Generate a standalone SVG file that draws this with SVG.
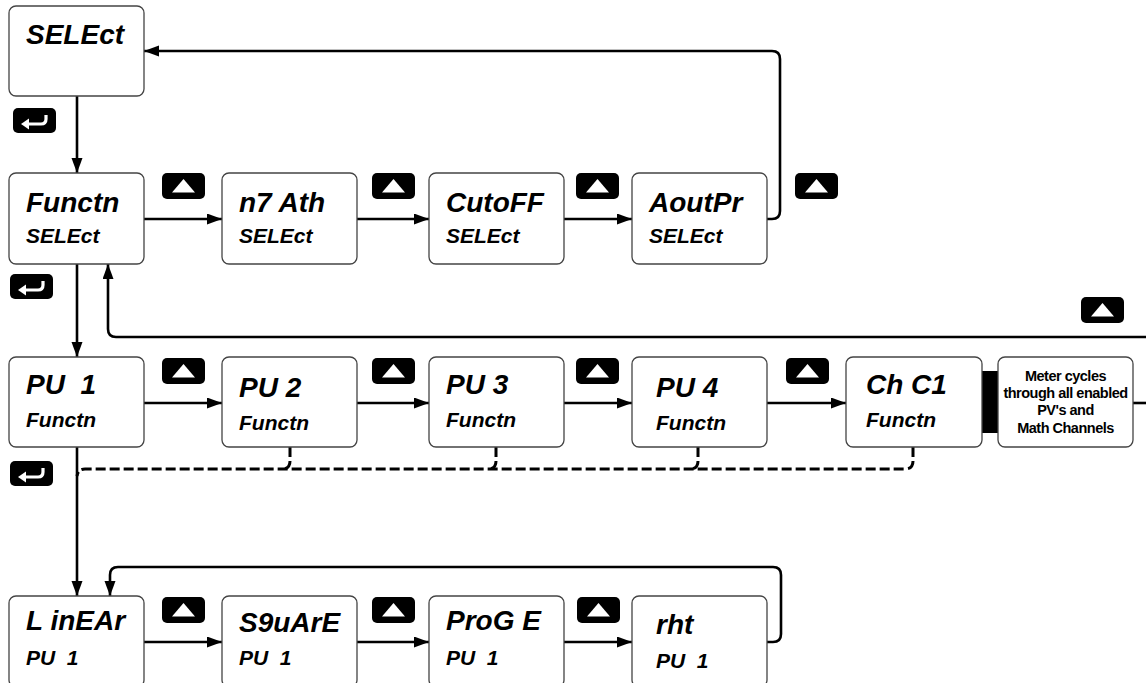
<svg xmlns="http://www.w3.org/2000/svg" xmlns:xlink="http://www.w3.org/1999/xlink" width="1146" height="683" viewBox="0 0 1146 683">
<style>
.box{fill:#fff;stroke:#444;stroke-width:1.3}
.t1{font-family:"Liberation Sans",Arial,sans-serif;font-weight:bold;font-style:italic;font-size:28px;fill:#000;white-space:pre}
.t2{font-family:"Liberation Sans",Arial,sans-serif;font-weight:bold;font-style:italic;font-size:21px;fill:#000;white-space:pre}
.note{font-family:"Liberation Sans",Arial,sans-serif;font-weight:bold;font-size:14.5px;fill:#000;text-anchor:middle;letter-spacing:-0.5px}
.ln{fill:none;stroke:#000;stroke-width:2.6}
.arr{marker-end:url(#ah)}
.dash{fill:none;stroke:#000;stroke-width:3;stroke-dasharray:10 4}
</style>
<defs>
<marker id="ah" markerUnits="userSpaceOnUse" markerWidth="16" markerHeight="12" refX="15" refY="5.5" orient="auto">
<path d="M0,0 L15,5.5 L0,11 Z" fill="#000"/>
</marker>
<symbol id="up" viewBox="0 0 43 26" width="43" height="26">
<rect x="0" y="0" width="43" height="26" rx="5" fill="#000"/>
<path d="M21.5,6 L33,19.5 L10,19.5 Z" fill="#fff"/>
</symbol>
<symbol id="enter" viewBox="0 0 43 25" width="43" height="25">
<rect x="0" y="0" width="43" height="25" rx="5" fill="#000"/>
<path d="M14,16 H28 Q33,16 33,11 V7" fill="none" stroke="#fff" stroke-width="3.2"/>
<path d="M8,16 L16,10.5 L16,21.5 Z" fill="#fff"/>
</symbol>
</defs>

<g id="connectors">
<path class="ln arr" d="M77,96 V173"/>
<path class="ln arr" d="M144,219 H222"/>
<path class="ln arr" d="M357,219 H429"/>
<path class="ln arr" d="M564,219 H632"/>
<path class="ln arr" d="M767,219 H772 Q780,219 780,211 V59 Q780,51 772,51 H144"/>
<path class="ln arr" d="M77,264 V357"/>
<path class="ln arr" d="M1146,337 H116 Q108,337 108,329 V264"/>
<path class="ln arr" d="M144,403 H222"/>
<path class="ln arr" d="M357,403 H429"/>
<path class="ln arr" d="M564,403 H632"/>
<path class="ln arr" d="M767,403 H846"/>
<path class="ln" d="M1133,403 H1146"/>
<rect x="982" y="371" width="16" height="62" fill="#000"/>
<path class="dash" d="M913,447 V461 Q913,469 905,469 H85 Q78,469 77,476"/>
<path class="dash" d="M290,447 V461 Q290,469 282,469"/>
<path class="dash" d="M496,447 V461 Q496,469 488,469"/>
<path class="dash" d="M698,447 V461 Q698,469 690,469"/>
<path class="ln arr" d="M77,447 V596"/>
<path class="ln arr" d="M767,642 H773 Q781,642 781,634 V575 Q781,567 773,567 H118 Q110,567 110,575 V596"/>
<path class="ln arr" d="M144,642 H222"/>
<path class="ln arr" d="M357,642 H429"/>
<path class="ln arr" d="M564,642 H632"/>
</g>

<g id="keys">
<use xlink:href="#enter" x="13" y="108"/>
<use xlink:href="#enter" x="10" y="274"/>
<use xlink:href="#enter" x="10" y="461"/>
<use xlink:href="#up" x="162" y="173"/>
<use xlink:href="#up" x="372" y="173"/>
<use xlink:href="#up" x="576" y="173"/>
<use xlink:href="#up" x="795" y="173"/>
<use xlink:href="#up" x="1081" y="297"/>
<use xlink:href="#up" x="162" y="358"/>
<use xlink:href="#up" x="372" y="358"/>
<use xlink:href="#up" x="576" y="358"/>
<use xlink:href="#up" x="786" y="358"/>
<use xlink:href="#up" x="162" y="597"/>
<use xlink:href="#up" x="372" y="597"/>
<use xlink:href="#up" x="577" y="597"/>
</g>

<g id="select"><rect class="box" x="9" y="6" width="135" height="90" rx="7"/><text class="t1" x="26" y="44">SELEct</text></g>

<g id="functn-select"><rect class="box" x="9" y="173" width="135" height="91" rx="7"/><text class="t1" x="26" y="212">Functn</text><text class="t2" x="26" y="243">SELEct</text></g>
<g id="math-select"><rect class="box" x="222" y="173" width="135" height="91" rx="7"/><text class="t1" x="239" y="212">n7 Ath</text><text class="t2" x="239" y="243">SELEct</text></g>
<g id="cutoff-select"><rect class="box" x="429" y="173" width="135" height="91" rx="7"/><text class="t1" x="446" y="212">CutoFF</text><text class="t2" x="446" y="243">SELEct</text></g>
<g id="aoutpr-select"><rect class="box" x="632" y="173" width="135" height="91" rx="7"/><text class="t1" x="649" y="212">AoutPr</text><text class="t2" x="649" y="243">SELEct</text></g>

<g id="pv1"><rect class="box" x="9" y="357" width="135" height="90" rx="7"/><text class="t1" x="26" y="394">PU  1</text><text class="t2" x="26" y="427">Functn</text></g>
<g id="pv2"><rect class="box" x="222" y="357" width="135" height="90" rx="7"/><text class="t1" x="239" y="397">PU 2</text><text class="t2" x="239" y="430">Functn</text></g>
<g id="pv3"><rect class="box" x="429" y="357" width="135" height="90" rx="7"/><text class="t1" x="446" y="394">PU 3</text><text class="t2" x="446" y="427">Functn</text></g>
<g id="pv4"><rect class="box" x="632" y="357" width="135" height="90" rx="7"/><text class="t1" x="656" y="397">PU 4</text><text class="t2" x="656" y="430">Functn</text></g>
<g id="chc1"><rect class="box" x="846" y="357" width="136" height="90" rx="7"/><text class="t1" x="866" y="394">Ch C1</text><text class="t2" x="866" y="427">Functn</text></g>
<g id="meter-note"><rect class="box" x="998" y="357" width="135" height="90" rx="7"/>
<text class="note" x="1065.5" y="381">Meter cycles</text>
<text class="note" x="1065.5" y="398">through all enabled</text>
<text class="note" x="1065.5" y="415">PV's and</text>
<text class="note" x="1065.5" y="433">Math Channels</text></g>

<g id="linear"><rect class="box" x="9" y="596" width="135" height="91" rx="7"/><text class="t1" x="26" y="630">L inEAr</text><text class="t2" x="26" y="665">PU  1</text></g>
<g id="square"><rect class="box" x="222" y="596" width="135" height="91" rx="7"/><text class="t1" x="239" y="632">S9uArE</text><text class="t2" x="239" y="665">PU  1</text></g>
<g id="proge"><rect class="box" x="429" y="596" width="135" height="91" rx="7"/><text class="t1" x="446" y="630">ProG E</text><text class="t2" x="446" y="665">PU  1</text></g>
<g id="rht"><rect class="box" x="632" y="596" width="135" height="91" rx="7"/><text class="t1" x="656" y="634">rht</text><text class="t2" x="656" y="668">PU  1</text></g>
</svg>
